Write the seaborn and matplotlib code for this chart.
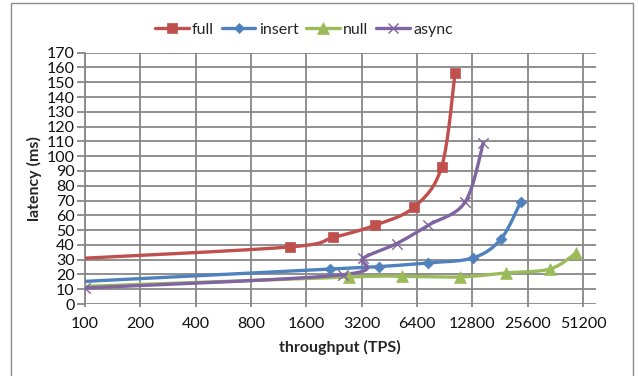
import matplotlib
matplotlib.use('Agg')

import numpy as np
import pandas as pd
import matplotlib.pyplot as plt
import seaborn as sns
from matplotlib.lines import Line2D
from matplotlib.patches import Rectangle

# values (throughput TPS, latency ms)
full_tps = [100, 1300, 2240, 3780, 6150, 8700, 10300]
full_lat = [31, 38.6, 45, 53.3, 65.5, 92.8, 156.5]

insert_tps = [100, 2150, 3990, 7300, 12900, 18300, 23400]
insert_lat = [15.3, 23.7, 25.3, 27.8, 31.2, 44, 69]

null_tps = [100, 2740, 5270, 10950, 19400, 33800, 46800]
null_lat = [11.9, 18.3, 18.7, 18.3, 21, 23.7, 34.5]

async_tps = [100, 2520, 3270, 4960, 7360, 11650, 14650]
async_lat = [10.8, 19.8, 31.2, 40.9, 53.3, 68.8, 109]

x_ticks = [100, 200, 400, 800, 1600, 3200, 6400, 12800, 25600, 51200]
y_ticks = list(range(0, 171, 10))


def smooth(xs, ys, sx=55.35, sy=1.476, n=30):
    # catmull-rom through the points, done in screen-like space (log2 x)
    u = np.log2(np.array(xs, float)) * sx
    v = np.array(ys, float) * sy
    P = np.column_stack([u, v])
    P = np.vstack([P[0], P, P[-1]])
    out = []
    for i in range(1, len(P) - 2):
        p0, p1, p2, p3 = P[i - 1], P[i], P[i + 1], P[i + 2]
        c1 = p1 + (p2 - p0) / 6
        c2 = p2 - (p3 - p1) / 6
        t = np.linspace(0, 1, n)[:, None]
        seg = ((1 - t) ** 3) * p1 + 3 * ((1 - t) ** 2) * t * c1 + 3 * (1 - t) * t ** 2 * c2 + t ** 3 * p2
        out.append(seg)
    out = np.vstack(out)
    return 2 ** (out[:, 0] / sx), out[:, 1] / sy


sns.set_style('white')
plt.rcParams['font.family'] = ['Lato', 'DejaVu Sans']
fs = 11.5

fig = plt.figure(figsize=(6.38, 3.76), dpi=100)
ax = fig.add_axes([85 / 638, 1 - 304 / 376, (595.7 - 85) / 638, (304 - 52.7) / 376])

series = [
    ('full', full_tps, full_lat, '#C0504D', 's', 7.5, True),
    ('insert', insert_tps, insert_lat, '#4F81BD', 'D', 5.5, True),
    ('null', null_tps, null_lat, '#9BBB59', '^', 8.5, True),
    ('async', async_tps, async_lat, '#8064A2', 'x', 7.5, False),
]

handles = []
for name, xs, ys, col, mk, ms, skip_first in series:
    sx, sy = smooth(xs, ys)
    sns.lineplot(x=sx, y=sy, sort=False, color=col, lw=2.4, ax=ax, zorder=3)
    mx = xs[1:] if skip_first else xs
    my = ys[1:] if skip_first else ys
    df = pd.DataFrame({'tps': mx, 'lat': my})
    if mk == 'x':
        sns.scatterplot(data=df, x='tps', y='lat', marker='x', s=ms ** 2, color=col,
                        linewidth=1.0, ax=ax, zorder=4)
    else:
        sns.scatterplot(data=df, x='tps', y='lat', marker=mk, s=ms ** 2, color=col,
                        edgecolor=col, linewidth=0.5, ax=ax, zorder=4)
    handles.append(Line2D([0], [0], color=col, lw=2.4, marker=mk, markersize=ms,
                          markeredgewidth=1.0 if mk == 'x' else 0.5, label=name))

ax.set_xscale('log', base=2)
ax.set_xlim(100, 59900)
ax.set_ylim(0, 170)
ax.set_xticks(x_ticks)
ax.set_xticklabels([str(t) for t in x_ticks])
ax.xaxis.set_minor_locator(matplotlib.ticker.NullLocator())
ax.set_yticks(y_ticks)
ax.set_yticklabels([str(t) for t in y_ticks])

gc = '#878787'
ax.grid(True, color=gc, lw=1.3)
ax.set_axisbelow(True)
for s in ['top', 'right', 'bottom']:
    ax.spines[s].set_visible(False)
ax.spines['left'].set_color(gc)
ax.spines['left'].set_linewidth(1.3)
ax.tick_params(axis='y', length=5.5, width=1.3, color=gc, labelsize=fs, pad=2, labelcolor='#111111')
ax.tick_params(axis='x', length=2.5, width=1.3, color=gc, labelsize=fs, pad=7, labelcolor='#111111')
ax.tick_params(bottom=True, left=True)

ax.set_xlabel('throughput (TPS)', fontsize=fs, fontweight='bold', labelpad=6)
ax.set_ylabel('latency (ms)', fontsize=fs, fontweight='bold', labelpad=3)

fig.legend(handles=handles, loc='center', bbox_to_anchor=(304 / 638, 1 - 30 / 376), ncol=4,
           frameon=False, fontsize=fs, handlelength=2.1, handletextpad=0.2, columnspacing=0.5)

fig.patches.append(Rectangle((11 / 638, -0.1), (633 - 11) / 638, 1.1 - 3 / 376,
                             transform=fig.transFigure, fill=False, edgecolor='#8c8c8c', lw=1.0))

fig.savefig('out.png', dpi=100)
